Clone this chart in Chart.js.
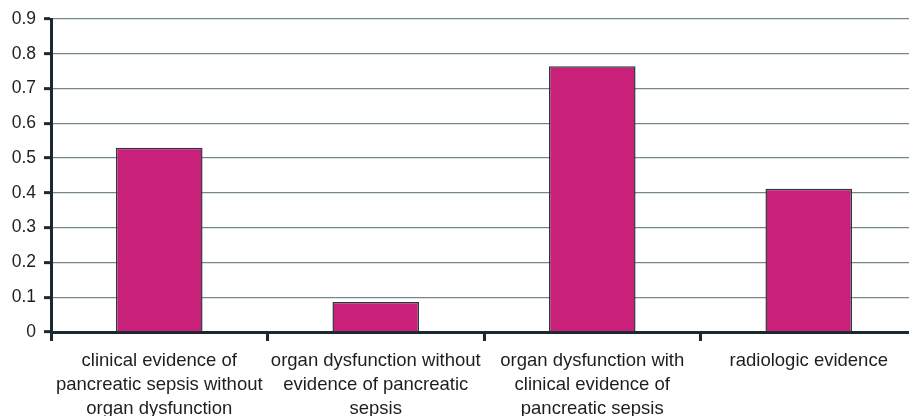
<!DOCTYPE html>
<html>
<head>
<meta charset="utf-8">
<script src="https://cdn.jsdelivr.net/npm/chart.js@4"></script>
<style>
  html, body { margin: 0; padding: 0; background: #ffffff; overflow: hidden; }
  #wrap { width: 935px; height: 416px; }
</style>
</head>
<body>
<div id="wrap"><canvas id="c" width="935" height="416"></canvas></div>
<script>
// Categories (wrapped onto lines) and the plotted proportions
const categories = [
  ["clinical evidence of", "pancreatic sepsis without", "organ dysfunction"],
  ["organ dysfunction without", "evidence of pancreatic", "sepsis"],
  ["organ dysfunction with", "clinical evidence of", "pancreatic sepsis"],
  ["radiologic evidence"]
];
const values = [0.53, 0.086, 0.764, 0.412];
const yTicks = [0, 0.1, 0.2, 0.3, 0.4, 0.5, 0.6, 0.7, 0.8, 0.9];

const axisDark = '#1c2a30';

new Chart(document.getElementById('c'), {
  type: 'bar',
  data: {
    labels: categories,
    datasets: [{
      data: values,
      backgroundColor: '#c9217a',
      borderColor: '#2b3940',
      borderWidth: 1.5,
      barPercentage: 0.4,
      categoryPercentage: 1.0
    }]
  },
  options: {
    responsive: false,
    animation: false,
    devicePixelRatio: 1,
    layout: { padding: { top: 19, right: 18, bottom: 0, left: 0 } },
    plugins: { legend: { display: false }, tooltip: { enabled: false } },
    scales: {
      x: {
        offset: true,
        grid: {
          offset: true,
          drawOnChartArea: false,
          drawTicks: true,
          tickLength: 9,
          tickWidth: 3,
          tickColor: axisDark
        },
        border: { display: true, color: axisDark, width: 3 },
        ticks: {
          color: '#1e1e1e',
          font: { family: 'Liberation Sans, Arial, sans-serif', size: 18.5, lineHeight: 1.3 },
          padding: 8,
          maxRotation: 0,
          autoSkip: false
        },
        afterFit: (s) => { s.height = 84; }
      },
      y: {
        min: 0,
        max: 0.9,
        afterBuildTicks: (s) => { s.ticks = yTicks.map(v => ({ value: v })); },
        grid: {
          color: '#76878a',
          lineWidth: 1.3,
          drawTicks: true,
          tickLength: 7,
          tickWidth: 3,
          tickColor: axisDark
        },
        border: { display: true, color: axisDark, width: 3 },
        ticks: {
          color: '#1e1e1e',
          font: { family: 'Liberation Sans, Arial, sans-serif', size: 17.5 },
          padding: 8,
          callback: (v) => (v === 0 ? '0' : v.toFixed(1))
        },
        afterFit: (s) => { s.width = 51; }
      }
    }
  }
});
</script>
</body>
</html>
